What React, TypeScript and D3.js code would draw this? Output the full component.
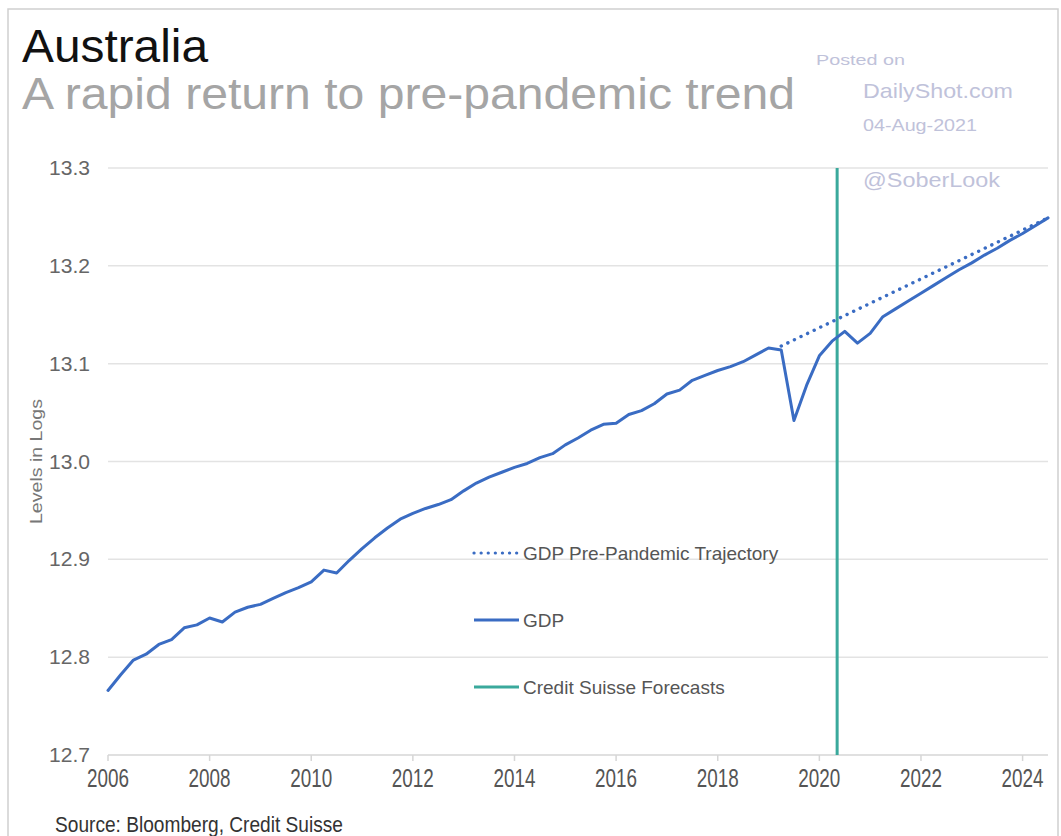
import React from "react";
import * as d3 from "d3";

// ---------- DATA ----------
const startYear = 2006;
// Quarterly log GDP levels, 2006Q1 .. 2024Q3 (forecasts after mid-2020)
const gdpValues: number[] = [
  12.766, 12.782, 12.797, 12.803,
  12.813, 12.818, 12.830, 12.833,
  12.840, 12.836, 12.846, 12.851,
  12.854, 12.860, 12.866, 12.871,
  12.877, 12.889, 12.886, 12.899,
  12.911, 12.922, 12.932, 12.941,
  12.947, 12.952, 12.956, 12.961,
  12.970, 12.978, 12.984, 12.989,
  12.994, 12.998, 13.004, 13.008,
  13.017, 13.024, 13.032, 13.038,
  13.039, 13.048, 13.052, 13.059,
  13.069, 13.073, 13.083, 13.088,
  13.093, 13.097, 13.102, 13.109,
  13.116, 13.114, 13.042, 13.078,
  13.108, 13.123, 13.133, 13.121,
  13.131, 13.148, 13.156, 13.164,
  13.172, 13.180, 13.188, 13.196,
  13.203, 13.211, 13.218, 13.226,
  13.233, 13.241, 13.249,
];
const gdpDates: number[] = gdpValues.map((_, i) => startYear + i / 4);

const trajectoryDates: number[] = [2019.25, 2024.5];
const trajectoryValues: number[] = [13.118, 13.249];

const forecastStart = 2020.35;

const yTicks: number[] = [12.7, 12.8, 12.9, 13.0, 13.1, 13.2, 13.3];
const xTicks: number[] = [2006, 2008, 2010, 2012, 2014, 2016, 2018, 2020, 2022, 2024];

const legendLabels: string[] = [
  "GDP Pre-Pandemic Trajectory",
  "GDP",
  "Credit Suisse Forecasts",
];

const title = "Australia";
const subtitle = "A rapid return to pre-pandemic trend";
const yAxisTitle = "Levels in Logs";
const sourceText = "Source: Bloomberg, Credit Suisse";

// ---------- STYLE ----------
const W = 1061;
const H = 836;
const BLUE = "#3a6cc3";
const TEAL = "#3aa99c";
const GRID = "#e3e3e3";
const SANS = "'Liberation Sans', Arial, Helvetica, sans-serif";
const NARROW = "'Liberation Sans Narrow', 'Liberation Sans', Arial, sans-serif";
const WM = "#bfc2da";

export default function App() {
  const x = d3.scaleLinear().domain([2006, 2024.5]).range([108, 1048]);
  const y = d3.scaleLinear().domain([12.7, 13.3]).range([755, 168]);

  const line = d3
    .line<[number, number]>()
    .x((d) => x(d[0]))
    .y((d) => y(d[1]))
    .curve(d3.curveLinear);

  const gdpPts: [number, number][] = gdpDates.map((d, i) => [d, gdpValues[i]]);
  const trajPts: [number, number][] = trajectoryDates.map((d, i) => [d, trajectoryValues[i]]);

  const legendY = [553, 620, 687];

  return (
    <svg
      width={W}
      height={H}
      style={{ position: "absolute", left: 0, top: 0, background: "#fff" }}
    >
      <rect x={0} y={0} width={W} height={H} fill="#fff" />
      <rect x={8} y={9} width={1050} height={900} fill="none" stroke="#cfcfcf" strokeWidth={1.5} />

      {/* Titles */}
      <text x={22} y={62} fontFamily={SANS} fontSize={47} fill="#111" textLength={186} lengthAdjust="spacingAndGlyphs">
        {title}
      </text>
      <text x={22} y={109} fontFamily={SANS} fontSize={45} fill="#a5a5a5" textLength={773} lengthAdjust="spacingAndGlyphs">
        {subtitle}
      </text>

      {/* Watermark */}
      <text x={816} y={65} fontFamily={SANS} fontSize={15} fill={WM} textLength={89} lengthAdjust="spacingAndGlyphs">Posted on</text>
      <text x={863} y={98} fontFamily={SANS} fontSize={21} fill={WM} textLength={150} lengthAdjust="spacingAndGlyphs">DailyShot.com</text>
      <text x={863} y={131} fontFamily={SANS} fontSize={16} fill={WM} textLength={114} lengthAdjust="spacingAndGlyphs">04-Aug-2021</text>

      {/* Grid */}
      {yTicks.map((t) => (
        <line key={"g" + t} x1={x(2006)} x2={x(2024.5)} y1={y(t)} y2={y(t)} stroke={t === 12.7 ? "#d6d6d6" : GRID} strokeWidth={1.5} />
      ))}
      {yTicks.map((t) => (
        <text key={"yl" + t} x={90} y={y(t)} dy="0.35em" textAnchor="end" fontFamily={SANS} fontSize={20} fill="#666" textLength={41} lengthAdjust="spacingAndGlyphs">
          {d3.format(".1f")(t)}
        </text>
      ))}

      <text x={863} y={187} fontFamily={SANS} fontSize={21} fill={WM} textLength={137} lengthAdjust="spacingAndGlyphs">@SoberLook</text>

      {/* X axis ticks */}
      {xTicks.map((t) => (
        <g key={"x" + t}>
          <line x1={x(t)} x2={x(t)} y1={y(12.7)} y2={y(12.7) + 6} stroke="#d6d6d6" strokeWidth={1.5} />
          <text x={x(t) - 21} y={787} fontFamily={NARROW} fontSize={25} fill="#555" textLength={42} lengthAdjust="spacingAndGlyphs">
            {t}
          </text>
        </g>
      ))}

      {/* Y axis title */}
      <text
        transform={`translate(42, ${y(13.0)}) rotate(-90)`}
        textAnchor="middle"
        fontFamily={SANS}
        fontSize={17}
        fill="#777"
        textLength={125}
        lengthAdjust="spacingAndGlyphs"
      >
        {yAxisTitle}
      </text>

      {/* Forecast vertical line */}
      <line x1={x(forecastStart)} x2={x(forecastStart)} y1={y(13.3)} y2={y(12.7)} stroke={TEAL} strokeWidth={3} />

      {/* Trajectory (dotted) */}
      <path d={line(trajPts) || ""} fill="none" stroke={BLUE} strokeWidth={3.4} strokeDasharray="0.1 7.2" strokeLinecap="round" />

      {/* GDP */}
      <path d={line(gdpPts) || ""} fill="none" stroke={BLUE} strokeWidth={3} strokeLinejoin="round" strokeLinecap="round" />

      {/* Legend */}
      <line x1={474} x2={518} y1={legendY[0]} y2={legendY[0]} stroke={BLUE} strokeWidth={3.2} strokeDasharray="0.1 7" strokeLinecap="round" />
      <line x1={474} x2={519} y1={legendY[1]} y2={legendY[1]} stroke={BLUE} strokeWidth={3} />
      <line x1={474} x2={519} y1={legendY[2]} y2={legendY[2]} stroke={TEAL} strokeWidth={3} />
      {legendLabels.map((l, i) => (
        <text key={l} x={523} y={legendY[i]} dy="0.35em" fontFamily={SANS} fontSize={19} fill="#555">
          {l}
        </text>
      ))}

      {/* Source */}
      <text x={55} y={832} fontFamily={NARROW} fontSize={22} fill="#333" textLength={288} lengthAdjust="spacingAndGlyphs">
        {sourceText}
      </text>
    </svg>
  );
}
